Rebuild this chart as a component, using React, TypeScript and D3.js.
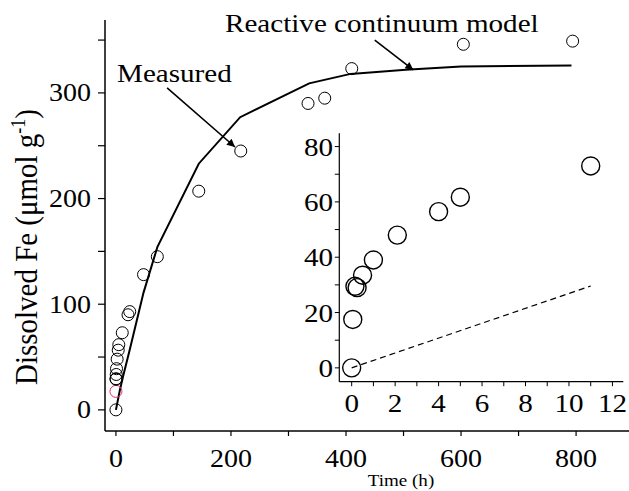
import React from "react";
import * as d3 from "d3";

// Main panel data (time in h, dissolved Fe in µmol/g)
const measuredTime = [0, 0.05, 0.15, 0.25, 0.5, 1, 2.1, 4, 5, 11, 21, 24, 48, 72, 144, 217, 334, 363, 410, 604, 794];
const measuredFe = [0, 17.5, 29.5, 29, 33.5, 39, 48, 56.5, 61.7, 73, 90, 93, 128, 145, 207, 245, 290, 295, 323, 346, 349];
const highlightIndex = 1;

const modelTime = [0, 7, 13, 24, 48, 72, 144, 216, 336, 408, 504, 600, 792];
const modelFe = [0, 19, 33, 57, 111, 154, 233, 277, 309, 318, 322, 325, 326];

// Inset data
const insetTime = [0, 0.05, 0.15, 0.25, 0.5, 1, 2.1, 4, 5, 11];
const insetFe = [0, 17.5, 29.5, 29, 33.5, 39, 48, 56.5, 61.7, 73];
const insetLineTime = [0, 11];
const insetLineFe = [0, 29.6];

const mainXTicks = [0, 200, 400, 600, 800];
const mainXMinor = [100, 300, 500, 700];
const mainYTicks = [0, 100, 200, 300];
const mainYMinor = [50, 150, 250, 350];
const insetXTicks = [0, 2, 4, 6, 8, 10, 12];
const insetXMinor = [1, 3, 5, 7, 9, 11];
const insetYTicks = [0, 20, 40, 60, 80];
const insetYMinor = [10, 30, 50, 70];

// annotations: label, arrow start, arrow end (data units)
const annotations = [
  { label: "Measured", tx: 117, ty: 82, x0: 89, y0: 304.7, x1: 207, y1: 248.8 },
  { label: "Reactive continuum model", tx: 225, ty: 32, x0: 450, y0: 350, x1: 517, y1: 321.7 },
];

const FONT = "'Liberation Serif', 'Times New Roman', serif";
const SX = 1.12;

function SText({ x, y, size, anchor = "start", children }: any) {
  return (
    <g transform={`translate(${x},${y}) scale(${SX},1)`}>
      <text x={0} y={0} fontSize={size} textAnchor={anchor} fontFamily={FONT} fill="#000">
        {children}
      </text>
    </g>
  );
}

export default function App() {
  const W = 629, H = 491;
  const x = d3.scaleLinear().domain([-19, 892]).range([105, 629]);
  const y = d3.scaleLinear().domain([-20, 369]).range([431, 20]);
  const ix = d3.scaleLinear().domain([-0.57, 12.5]).range([339.3, 623.3]);
  const iy = d3.scaleLinear().domain([-5, 84.8]).range([381.7, 133.3]);

  const mainLine = d3.line<number>().x((_, i) => x(modelTime[i])).y((d) => y(d))(modelFe) || "";
  const insetLine = d3.line<number>().x((_, i) => ix(insetLineTime[i])).y((d) => iy(d))(insetLineFe) || "";

  const [xa0, xa1] = x.range();
  const [ya0, ya1] = y.range();
  const [ixa0, ixa1] = ix.range();
  const [iya0, iya1] = iy.range();

  return (
    <svg width={W} height={H} style={{ position: "absolute", left: 0, top: 0 }}>
      <defs>
        <marker id="arrow" viewBox="0 0 10 10" refX="10" refY="5" markerWidth="10" markerHeight="8" markerUnits="userSpaceOnUse" orient="auto">
          <path d="M0,0 L10,5 L0,10 Z" fill="#000" />
        </marker>
      </defs>
      <rect width={W} height={H} fill="#fff" />

      {/* main axes */}
      <line x1={xa0} x2={xa0} y1={ya0} y2={ya1} stroke="#000" strokeWidth={1.5} />
      <line x1={xa0} x2={xa1} y1={ya0} y2={ya0} stroke="#000" strokeWidth={1.5} />
      {mainXTicks.concat(mainXMinor).map((t) => (
        <line key={"mx" + t} x1={x(t)} x2={x(t)} y1={ya0} y2={ya0 + 5} stroke="#000" strokeWidth={1.2} />
      ))}
      {mainYTicks.concat(mainYMinor).map((t) => (
        <line key={"my" + t} x1={xa0 - 7} x2={xa0} y1={y(t)} y2={y(t)} stroke="#000" strokeWidth={1.2} />
      ))}
      {mainXTicks.map((t) => (
        <SText key={"mxl" + t} x={x(t)} y={467} size={25} anchor="middle">{t}</SText>
      ))}
      {mainYTicks.map((t) => (
        <SText key={"myl" + t} x={91} y={y(t) + 8.5} size={25} anchor="end">{t}</SText>
      ))}

      {/* axis titles */}
      <g transform={`translate(37,247) scale(${SX},1) rotate(-90)`}>
        <text x={0} y={0} fontSize={29} textAnchor="middle" fontFamily={FONT} fill="#000">
          Dissolved Fe (μmol g<tspan fontSize={18} dy={-11}>-1</tspan><tspan dy={11}>)</tspan>
        </text>
      </g>
      <SText x={401} y={486} size={17} anchor="middle">Time (h)</SText>

      {/* model line */}
      <path d={mainLine} fill="none" stroke="#000" strokeWidth={2} />

      {/* measured points */}
      {measuredFe.map((v, i) => (
        <circle key={"m" + i} cx={x(measuredTime[i])} cy={y(v)} r={6} fill="none"
          stroke={i === highlightIndex ? "#e0307a" : "#000"} strokeWidth={1} />
      ))}

      {/* annotations */}
      {annotations.map((a) => (
        <g key={a.label}>
          <SText x={a.tx} y={a.ty} size={26}>{a.label}</SText>
          <line x1={x(a.x0)} y1={y(a.y0)} x2={x(a.x1)} y2={y(a.y1)} stroke="#000" strokeWidth={1.6} markerEnd="url(#arrow)" />
        </g>
      ))}

      {/* inset axes */}
      <line x1={ixa0} x2={ixa0} y1={iya0} y2={iya1} stroke="#000" strokeWidth={1.2} />
      <line x1={ixa0} x2={ixa1} y1={iya0} y2={iya0} stroke="#000" strokeWidth={1.2} />
      {insetXTicks.concat(insetXMinor).map((t) => (
        <line key={"ix" + t} x1={ix(t)} x2={ix(t)} y1={iya0} y2={iya0 + 4.5} stroke="#000" strokeWidth={1} />
      ))}
      {insetYTicks.concat(insetYMinor).map((t) => (
        <line key={"iy" + t} x1={ixa0 - 4.5} x2={ixa0} y1={iy(t)} y2={iy(t)} stroke="#000" strokeWidth={1} />
      ))}
      {insetXTicks.map((t) => (
        <SText key={"ixl" + t} x={ix(t)} y={412} size={26} anchor="middle">{t}</SText>
      ))}
      {insetYTicks.map((t) => (
        <SText key={"iyl" + t} x={333} y={iy(t) + 9} size={26} anchor="end">{t}</SText>
      ))}

      <path d={insetLine} fill="none" stroke="#000" strokeWidth={1.2} strokeDasharray="6,4" />
      {insetFe.map((v, i) => (
        <circle key={"i" + i} cx={ix(insetTime[i])} cy={iy(v)} r={9} fill="none" stroke="#000" strokeWidth={1.4} />
      ))}
    </svg>
  );
}
